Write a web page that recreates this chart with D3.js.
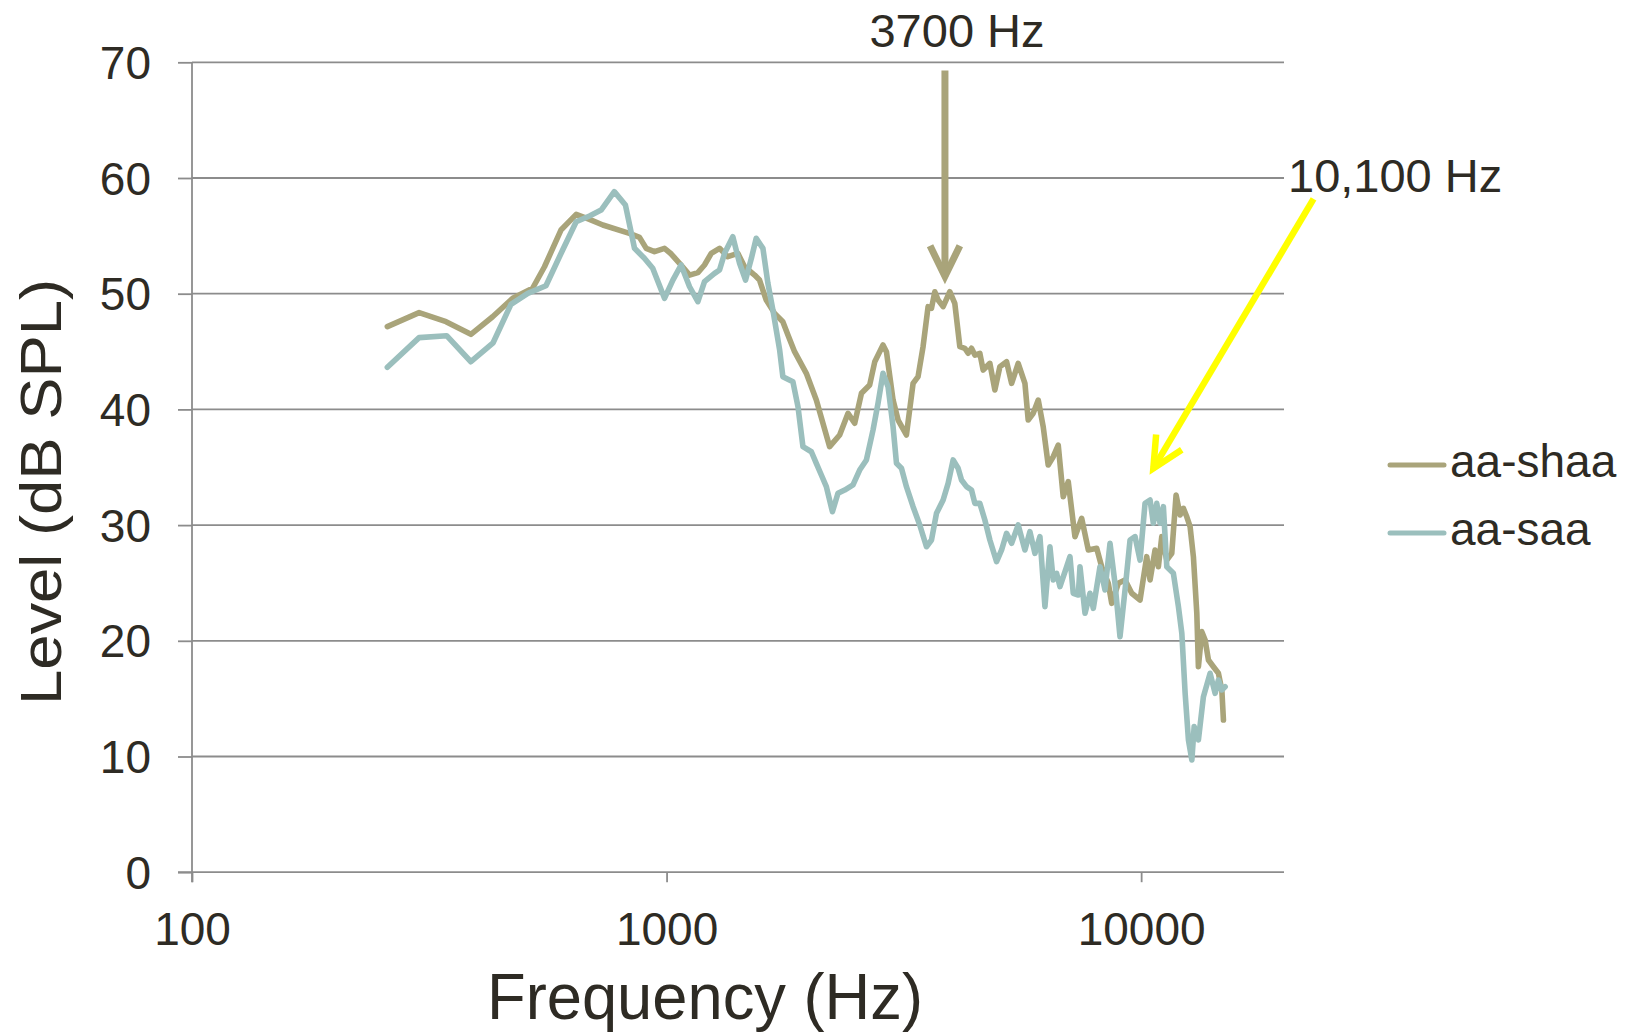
<!DOCTYPE html>
<html><head><meta charset="utf-8">
<script src="https://cdn.jsdelivr.net/npm/d3@7/dist/d3.min.js"></script>
<style>
body{margin:0;background:#fff}
svg{display:block}
text{font-family:"Liberation Sans",Arial,sans-serif;fill:#2e2b24}
</style>
</head><body>
<svg id="chart" width="1628" height="1034"></svg>
<script>
// ---- data ----
const shaaHz = [258,301,343,387,430,474,522,553,599,645,688,734,835,877,906,943,990,1023,1065,1118,1164,1202,1242,1293,1346,1413,1460,1533,1570,1622,1689,1758,1802,1861,1970,2068,2206,2316,2412,2491,2574,2679,2746,2858,2906,3001,3075,3202,3307,3388,3471,3557,3616,3675,3734,3826,3952,4049,4149,4251,4320,4391,4463,4572,4646,4800,4918,5039,5205,5334,5507,5690,5781,5924,6070,6218,6371,6528,6688,6852,7021,7253,7494,7739,8060,8258,8527,8669,8951,9248,9555,9947,10275,10442,10699,10872,11053,11325,11603,11848,12080,12275,12480,12681,12886,13101,13203,13423,13640,13861,14201,14550,14792,14908];
const shaaDb = [47.15,48.36,47.58,46.49,48.01,49.6,50.47,52.33,55.5,56.86,56.43,55.94,55.22,54.87,53.92,53.63,53.92,53.43,52.63,51.61,51.82,52.48,53.49,53.92,53.2,53.49,52.33,51.61,51.18,49.45,48.3,47.58,46.43,44.99,43.12,40.81,36.78,37.79,39.66,38.8,41.39,42.11,44.12,45.57,44.99,40.81,39.08,37.79,42.25,42.83,45.42,48.88,48.74,50.17,49.45,48.88,50.17,49.17,45.42,45.28,44.85,45.28,44.7,44.85,43.4,43.98,41.68,43.69,44.12,42.25,43.98,42.25,39.08,39.66,40.81,38.5,35.19,35.91,36.92,32.45,33.75,29.0,30.59,27.85,27.99,26.4,24.97,23.24,24.97,25.26,24.11,23.53,27.27,25.26,27.85,26.4,29.0,26.98,27.56,32.6,30.87,31.45,30.72,29.86,27.27,22.38,17.76,20.79,20.07,18.34,17.76,17.19,15.75,13.15];

const saaHz = [258,301,344,387,431,470,510,557,604,645,688,728,776,819,856,898,935,990,1031,1073,1118,1164,1202,1262,1293,1325,1379,1425,1467,1509,1545,1596,1635,1675,1731,1758,1846,1892,1938,2019,2068,2119,2171,2236,2297,2373,2471,2552,2637,2723,2790,2858,2929,3001,3051,3126,3202,3307,3416,3529,3616,3705,3826,3920,4016,4115,4183,4286,4391,4463,4572,4685,4800,4959,5081,5205,5334,5507,5690,5829,5973,6120,6270,6424,6528,6636,6744,6967,7080,7194,7371,7433,7616,7803,7929,8190,8391,8598,8808,9025,9248,9476,9709,9947,10191,10442,10610,10787,10961,11140,11325,11694,11983,12183,12380,12580,12790,12933,13203,13528,13975,14319,14550,14792,15031];
const saaDb = [43.64,46.2,46.37,44.12,45.76,49.08,50.03,50.69,53.78,56.22,56.72,57.23,58.82,57.67,53.92,53.06,52.2,49.6,51.18,52.48,50.6,49.31,51.04,51.76,52.05,53.49,54.93,52.63,51.18,53.06,54.79,53.92,50.9,48.59,45.13,42.83,42.39,40.23,36.78,36.34,35.34,34.33,33.32,31.16,32.75,33.03,33.47,34.76,35.63,38.22,40.53,43.12,41.96,38.5,35.34,34.91,33.32,31.59,30.01,28.13,28.71,31.02,32.17,33.61,35.63,34.91,33.9,33.32,33.03,31.88,31.88,30.44,28.71,26.84,27.85,29.29,28.43,30.01,27.85,29.43,27.56,29.0,22.95,28.13,25.26,25.83,24.68,26.4,27.27,24.11,23.96,26.4,22.38,24.11,22.81,26.4,24.39,28.43,24.97,20.35,24.39,28.71,29.0,26.98,31.88,32.17,30.16,31.88,30.16,31.59,26.4,25.83,22.95,20.65,15.46,11.43,9.7,12.58,11.43,15.17,17.19,15.46,16.61,15.75,16.03];

const seriesNames = ["aa-shaa", "aa-saa"];
const xTickValues = [100, 1000, 10000];
const xTickLabels = ["100", "1000", "10000"];
const yTickValues = [0, 10, 20, 30, 40, 50, 60, 70];
const annoLabels = ["3700 Hz", "10,100 Hz"];
// arrows: [fromHz, fromDb, toHz, toDb]
const arrowShaa = [3860, 69.3, 3860, 51.5];
const arrowSaa = [23085, 58.2, 10610, 34.9];

// ---- layout ----
const colors = ["#a9a47a", "#9bbfbd"];
const svg = d3.select("#chart");
const x = d3.scaleLog().domain([100, 20000]).range([192, 1284]);
const y = d3.scaleLinear().domain([0, 70]).range([872.2, 62.3]);
const gridColor = "#8c8c8c";

// gridlines
svg.append("g").selectAll("line").data(yTickValues.filter(v => v > 0)).join("line")
  .attr("x1", x(100)).attr("x2", x(20000))
  .attr("y1", d => y(d)).attr("y2", d => y(d))
  .attr("stroke", gridColor).attr("stroke-width", 1.8);

// y axis
const yAxis = d3.axisLeft(y).tickValues(yTickValues).tickSize(14).tickPadding(27).tickFormat(d3.format("d"));
const gy = svg.append("g").attr("transform", `translate(${x(100)},0)`).call(yAxis);
gy.select(".domain").attr("stroke", gridColor).attr("stroke-width", 1.8).attr("d", `M0,${y(70)}V${y(0)+10}`);
gy.selectAll(".tick line").attr("stroke", gridColor).attr("stroke-width", 1.8);
gy.selectAll(".tick text").attr("font-size", 46).attr("font-family", '"Liberation Sans",Arial,sans-serif').attr("fill", "#2e2b24").attr("dy", "0.35em");

// x axis
const xAxis = d3.axisBottom(x).tickValues(xTickValues).tickSize(10).tickPadding(30).tickFormat((d, i) => xTickLabels[i]);
const gx = svg.append("g").attr("transform", `translate(0,${y(0)})`).call(xAxis);
gx.select(".domain").attr("stroke", gridColor).attr("stroke-width", 1.8).attr("d", `M${x(100)-14},0H${x(20000)}`);
gx.selectAll(".tick line").attr("stroke", gridColor).attr("stroke-width", 1.8);
gx.selectAll(".tick text").attr("font-size", 46).attr("font-family", '"Liberation Sans",Arial,sans-serif').attr("fill", "#2e2b24").attr("dy", "0.71em");

// lines
const line = d3.line().x(d => x(d[0])).y(d => y(d[1]));
const seriesData = [d3.zip(shaaHz, shaaDb), d3.zip(saaHz, saaDb)];
svg.append("g").selectAll("path").data(seriesData).join("path")
  .attr("d", line).attr("fill", "none")
  .attr("stroke", (d, i) => colors[i]).attr("stroke-width", 5.6)
  .attr("stroke-linejoin", "round").attr("stroke-linecap", "round");

// axis titles
svg.append("text").attr("x", 705).attr("y", 1019).attr("text-anchor", "middle")
  .attr("font-size", 65).attr("textLength", 436).attr("lengthAdjust", "spacingAndGlyphs")
  .text("Frequency (Hz)");
svg.append("text").attr("transform", "translate(61,492) rotate(-90)").attr("text-anchor", "middle")
  .attr("font-size", 57).attr("textLength", 426).attr("lengthAdjust", "spacingAndGlyphs")
  .text("Level (dB SPL)");

// legend
const leg = svg.append("g").selectAll("g").data(seriesNames).join("g")
  .attr("transform", (d, i) => `translate(1390,${465 + i * 68})`);
leg.append("line").attr("x1", 0).attr("x2", 54).attr("y1", 0).attr("y2", 0)
  .attr("stroke", (d, i) => colors[i]).attr("stroke-width", 5).attr("stroke-linecap", "round");
leg.append("text").attr("x", 60).attr("y", 12).attr("font-size", 46).text(d => d);

// annotations
function arrow(a, color, w) {
  const x1 = x(a[0]), y1 = y(a[1]), x2 = x(a[2]), y2 = y(a[3]);
  const ang = Math.atan2(y1 - y2, x1 - x2);
  const L = 34, h = 26 * Math.PI / 180;
  const g = svg.append("g").attr("fill", "none").attr("stroke", color).attr("stroke-width", w);
  g.append("line").attr("x1", x1).attr("y1", y1).attr("x2", x2).attr("y2", y2);
  g.append("path").attr("stroke-linejoin", "miter")
    .attr("d", `M${x2 + L * Math.cos(ang - h)},${y2 + L * Math.sin(ang - h)}L${x2},${y2}L${x2 + L * Math.cos(ang + h)},${y2 + L * Math.sin(ang + h)}`);
}
arrow(arrowShaa, "#a9a47a", 7);
arrow(arrowSaa, "#ffff00", 6.5);
svg.append("text").attr("x", 957).attr("y", 46.5).attr("text-anchor", "middle").attr("font-size", 47).text(annoLabels[0]);
svg.append("text").attr("x", 1288).attr("y", 192).attr("font-size", 47).text(annoLabels[1]);
</script>
</body></html>
